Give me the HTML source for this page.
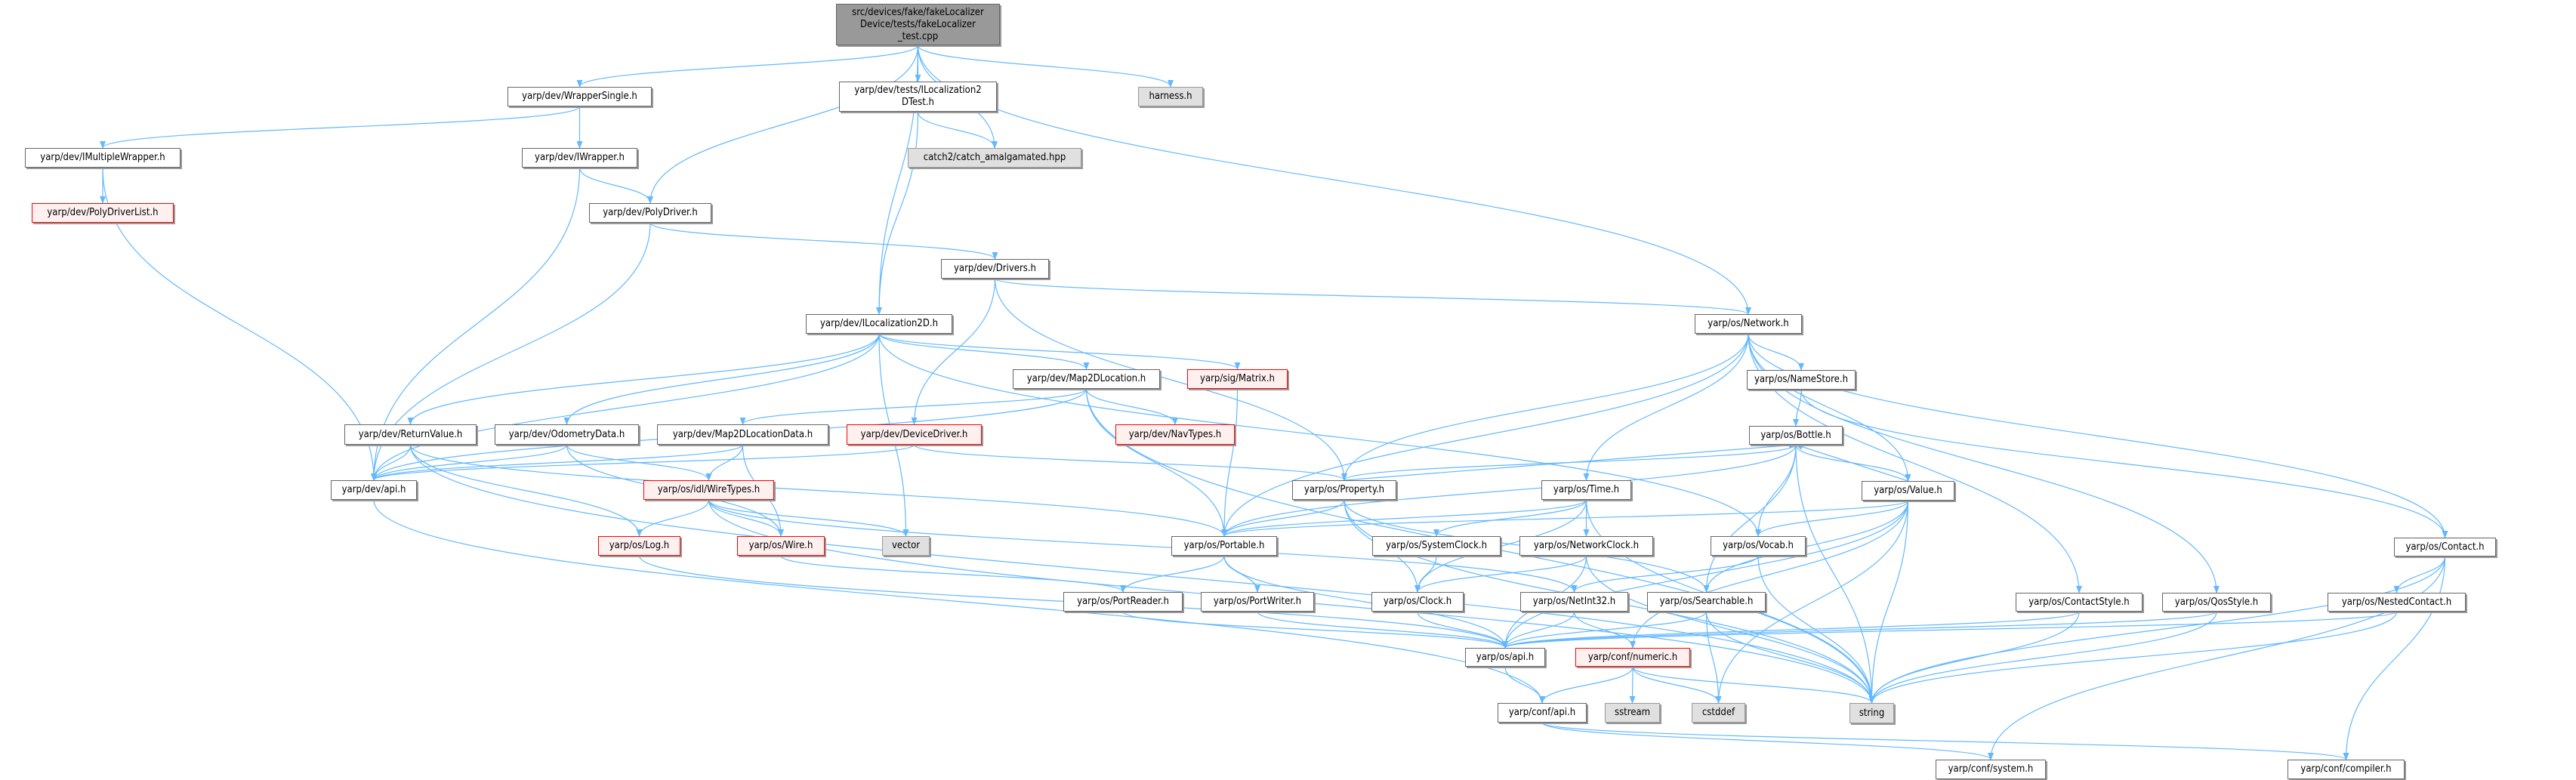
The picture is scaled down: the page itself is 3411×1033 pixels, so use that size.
<!DOCTYPE html>
<html><head><meta charset="utf-8">
<style>
html,body{margin:0;padding:0;background:#fff;}
#c{position:relative;width:3411px;height:1033px;overflow:hidden;}
svg{position:absolute;left:0;top:0;}
.n{position:absolute;box-sizing:border-box;border:1px solid #666;background:#fff;font-family:"DejaVu Sans Condensed","Liberation Sans",sans-serif;font-size:13px;color:#000;display:flex;align-items:center;justify-content:center;text-align:center;line-height:16px;white-space:nowrap;box-shadow:2px 2px 0 #999;}
.r{border-color:#f00;background:#fff0f0;}
.g{border-color:#999;background:#e0e0e0;}
.root{background:#999;border-color:#666;}
</style></head><body><div id="c">
<svg id="s" width="3411" height="1033"><defs><marker id="a" markerWidth="10" markerHeight="10" refX="9" refY="5" orient="auto" markerUnits="userSpaceOnUse"><path d="M0,1 L10,5 L0,9 z" fill="#63b8ff"/></marker></defs><g id="e" fill="none" stroke="#63b8ff" stroke-width="1.2"></g></svg>
<div class="n root" id="root" style="left:1107px;top:5px;width:217px;height:55px">src/devices/fake/fakeLocalizer<br>Device/tests/fakeLocalizer<br>_test.cpp</div>
<div class="n" id="ws" style="left:672px;top:115px;width:191px;height:26px">yarp/dev/WrapperSingle.h</div>
<div class="n" id="imw" style="left:33px;top:196px;width:206px;height:26px">yarp/dev/IMultipleWrapper.h</div>
<div class="n" id="iw" style="left:691px;top:196px;width:153px;height:26px">yarp/dev/IWrapper.h</div>
<div class="n r" id="pdl" style="left:42px;top:269px;width:188px;height:26px">yarp/dev/PolyDriverList.h</div>
<div class="n" id="pd" style="left:780px;top:269px;width:162px;height:26px">yarp/dev/PolyDriver.h</div>
<div class="n" id="il" style="left:1067px;top:416px;width:194px;height:26px">yarp/dev/ILocalization2D.h</div>
<div class="n" id="ilt" style="left:1111px;top:108px;width:209px;height:40px">yarp/dev/tests/ILocalization2<br>DTest.h</div>
<div class="n g" id="catch" style="left:1202px;top:196px;width:230px;height:26px">catch2/catch_amalgamated.hpp</div>
<div class="n g" id="harn" style="left:1507px;top:115px;width:86px;height:26px">harness.h</div>
<div class="n" id="drv" style="left:1246px;top:343px;width:143px;height:26px">yarp/dev/Drivers.h</div>
<div class="n" id="net" style="left:2244px;top:416px;width:142px;height:26px">yarp/os/Network.h</div>
<div class="n" id="m2d" style="left:1341px;top:489px;width:195px;height:26px">yarp/dev/Map2DLocation.h</div>
<div class="n r" id="mat" style="left:1572px;top:489px;width:133px;height:26px">yarp/sig/Matrix.h</div>
<div class="n" id="rv" style="left:456px;top:562px;width:175px;height:27px">yarp/dev/ReturnValue.h</div>
<div class="n" id="od" style="left:655px;top:562px;width:191px;height:27px">yarp/dev/OdometryData.h</div>
<div class="n" id="m2dd" style="left:870px;top:562px;width:227px;height:27px">yarp/dev/Map2DLocationData.h</div>
<div class="n r" id="dd" style="left:1121px;top:562px;width:179px;height:27px">yarp/dev/DeviceDriver.h</div>
<div class="n r" id="nav" style="left:1477px;top:562px;width:158px;height:27px">yarp/dev/NavTypes.h</div>
<div class="n" id="dapi" style="left:438px;top:636px;width:114px;height:26px">yarp/dev/api.h</div>
<div class="n r" id="wt" style="left:852px;top:636px;width:173px;height:26px">yarp/os/idl/WireTypes.h</div>
<div class="n" id="prop" style="left:1711px;top:636px;width:138px;height:26px">yarp/os/Property.h</div>
<div class="n" id="time" style="left:2041px;top:636px;width:119px;height:26px">yarp/os/Time.h</div>
<div class="n" id="ns" style="left:2313px;top:490px;width:144px;height:26px">yarp/os/NameStore.h</div>
<div class="n" id="bot" style="left:2316px;top:564px;width:124px;height:25px">yarp/os/Bottle.h</div>
<div class="n" id="val" style="left:2465px;top:637px;width:123px;height:26px">yarp/os/Value.h</div>
<div class="n r" id="log" style="left:792px;top:710px;width:109px;height:26px">yarp/os/Log.h</div>
<div class="n r" id="wire" style="left:976px;top:710px;width:116px;height:26px">yarp/os/Wire.h</div>
<div class="n g" id="vec" style="left:1168px;top:710px;width:63px;height:26px">vector</div>
<div class="n" id="port" style="left:1551px;top:710px;width:140px;height:26px">yarp/os/Portable.h</div>
<div class="n" id="sc" style="left:1817px;top:710px;width:170px;height:26px">yarp/os/SystemClock.h</div>
<div class="n" id="nc" style="left:2012px;top:710px;width:177px;height:26px">yarp/os/NetworkClock.h</div>
<div class="n" id="voc" style="left:2265px;top:710px;width:126px;height:26px">yarp/os/Vocab.h</div>
<div class="n" id="con" style="left:3170px;top:712px;width:135px;height:25px">yarp/os/Contact.h</div>
<div class="n" id="pr" style="left:1408px;top:784px;width:158px;height:26px">yarp/os/PortReader.h</div>
<div class="n" id="pw" style="left:1590px;top:784px;width:150px;height:26px">yarp/os/PortWriter.h</div>
<div class="n" id="clk" style="left:1816px;top:784px;width:122px;height:26px">yarp/os/Clock.h</div>
<div class="n" id="ni" style="left:2013px;top:784px;width:143px;height:26px">yarp/os/NetInt32.h</div>
<div class="n" id="sea" style="left:2181px;top:784px;width:157px;height:26px">yarp/os/Searchable.h</div>
<div class="n" id="cs" style="left:2669px;top:785px;width:168px;height:25px">yarp/os/ContactStyle.h</div>
<div class="n" id="qs" style="left:2863px;top:785px;width:144px;height:25px">yarp/os/QosStyle.h</div>
<div class="n" id="nco" style="left:3082px;top:785px;width:183px;height:25px">yarp/os/NestedContact.h</div>
<div class="n" id="oapi" style="left:1940px;top:858px;width:106px;height:25px">yarp/os/api.h</div>
<div class="n r" id="num" style="left:2086px;top:858px;width:152px;height:25px">yarp/conf/numeric.h</div>
<div class="n" id="capi" style="left:1983px;top:931px;width:118px;height:26px">yarp/conf/api.h</div>
<div class="n g" id="ss" style="left:2125px;top:931px;width:73px;height:26px">sstream</div>
<div class="n g" id="cst" style="left:2240px;top:931px;width:71px;height:26px">cstddef</div>
<div class="n g" id="str" style="left:2449px;top:931px;width:59px;height:27px">string</div>
<div class="n" id="csys" style="left:2563px;top:1006px;width:146px;height:26px">yarp/conf/system.h</div>
<div class="n" id="ccomp" style="left:3029px;top:1006px;width:155px;height:26px">yarp/conf/compiler.h</div>
</div>
<script>
var E="root ws,root pd,root il,root ilt,root catch,root harn,root net,ws imw,ws iw,imw pdl,imw dapi,iw dapi,iw pd,pd dapi,pd drv,ilt catch,ilt il,drv dd,drv prop,drv net,il dapi,il rv,il od,il m2d,il mat,il vec,il voc,m2d dapi,m2d m2dd,m2d nav,m2d str,m2d port,mat port,rv dapi,rv log,rv port,rv str,od dapi,od wt,od wire,m2dd dapi,m2dd wt,m2dd wire,dd dapi,dd prop,dapi capi,wt log,wt wire,wt vec,wt str,wt ni,log oapi,wire pr,prop port,prop sea,prop str,prop bot,prop clk,net prop,net port,net ns,net val,net time,net con,net cs,net qs,ns bot,ns con,bot prop,bot val,bot voc,bot sea,bot port,bot str,val bot,val voc,val sea,val port,val str,val num,val cst,val oapi,time port,time sc,time nc,time str,time clk,port pr,port pw,port oapi,sc clk,nc clk,nc oapi,nc str,voc ni,voc str,pr oapi,pw oapi,clk oapi,ni oapi,ni num,sea oapi,sea cst,sea str,oapi capi,num capi,num ss,num cst,num str,capi csys,capi ccomp,cs oapi,cs str,qs oapi,qs str,nco oapi,nco str,con nco,con str,con csys,con ccomp".split(",");
function b(id){var d=document.getElementById(id);return{x:d.offsetLeft,y:d.offsetTop,w:d.offsetWidth,h:d.offsetHeight};}
var g=document.getElementById("e"),h="";
E.forEach(function(p){var q=p.split(" "),s=b(q[0]),t=b(q[1]);
var sx=s.x+s.w/2,sy,tx=t.x+t.w/2,ty;
if(t.y>s.y+s.h-2){sy=s.y+s.h;ty=t.y;var dy=ty-sy;
h+='<path marker-end="url(#a)" d="M'+sx+','+sy+' C'+sx+','+(sy+dy/2)+' '+tx+','+(ty-dy/2)+' '+tx+','+ty+'"/>';}
else if(t.y+t.h<s.y+2){sy=s.y;ty=t.y+t.h;h+='<path marker-end="url(#a)" d="M'+sx+','+sy+' L'+tx+','+ty+'"/>';}
else{sy=s.y+s.h/2;ty=t.y+t.h/2;if(tx>sx){sx=s.x+s.w;tx=t.x;}else{sx=s.x;tx=t.x+t.w;}
h+='<path marker-end="url(#a)" d="M'+sx+','+sy+' L'+tx+','+ty+'"/>';}
});
g.innerHTML=h;
</script>
</body></html>
